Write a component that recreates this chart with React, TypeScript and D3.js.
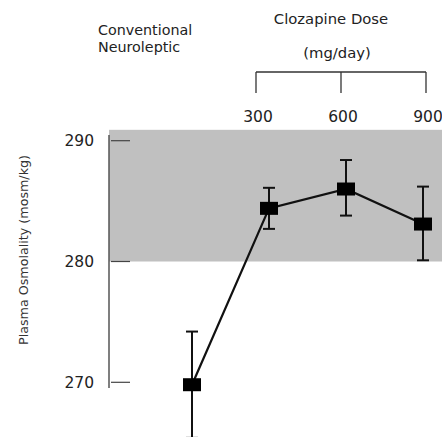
import React, { useEffect, useRef } from "react";
import * as d3 from "d3";

const groups = ["Conventional", "300", "600", "900"];
const means = [269.8, 284.4, 286.0, 283.1];
const errUp = [274.2, 286.1, 288.4, 286.2];
const errDown = [265.4, 282.7, 283.8, 280.1];
const doseLabels = ["300", "600", "900"];
const yTicks = [270, 280, 290];
const normalBand = [280, 290.9];

const font = "'DejaVu Sans', sans-serif";

export default function App() {
  const ref = useRef<SVGSVGElement | null>(null);

  useEffect(() => {
    const svg = d3.select(ref.current);
    svg.selectAll("*").remove();

    const x = d3.scalePoint().domain(groups).range([192, 423]);
    const y = d3.scaleLinear().domain([270, 290]).range([382.3, 140.7]);
    const xDose = d3.scalePoint().domain(doseLabels).range([256, 426]);

    // normal range band
    svg.append("rect")
      .attr("x", 109)
      .attr("y", y(normalBand[1]))
      .attr("width", 442 - 109)
      .attr("height", y(normalBand[0]) - y(normalBand[1]))
      .attr("fill", "#c0c0c0");

    // y axis
    svg.append("line")
      .attr("x1", 109).attr("x2", 109)
      .attr("y1", 135).attr("y2", 388)
      .attr("stroke", "#555").attr("stroke-width", 1.5);

    const ticks = svg.append("g");
    ticks.selectAll("line")
      .data(yTicks)
      .join("line")
      .attr("x1", 111).attr("x2", 130)
      .attr("y1", d => y(d)).attr("y2", d => y(d))
      .attr("stroke", "#444").attr("stroke-width", 1.2);
    ticks.selectAll("text")
      .data(yTicks)
      .join("text")
      .attr("x", 94)
      .attr("y", d => y(d) + 5.5)
      .attr("text-anchor", "end")
      .attr("font-family", font)
      .attr("font-size", 15.5)
      .attr("fill", "#222")
      .text(d => d);

    svg.append("text")
      .attr("transform", `translate(28,250) rotate(-90)`)
      .attr("text-anchor", "middle")
      .attr("font-family", font)
      .attr("font-size", 12.7)
      .attr("fill", "#333")
      .text("Plasma Osmolality (mosm/kg)");

    // header
    const head = svg.append("g").attr("font-family", font).attr("fill", "#222");
    head.append("text").attr("x", 98).attr("y", 35).attr("font-size", 14.3).text("Conventional");
    head.append("text").attr("x", 98).attr("y", 51.5).attr("font-size", 14.3).text("Neuroleptic");
    head.append("text").attr("x", 331).attr("y", 24).attr("text-anchor", "middle").attr("font-size", 14.8).text("Clozapine Dose");
    head.append("text").attr("x", 337).attr("y", 58).attr("text-anchor", "middle").attr("font-size", 14.8).text("(mg/day)");

    // bracket
    const br = svg.append("g").attr("stroke", "#333").attr("stroke-width", 1.3).attr("fill", "none");
    br.append("line")
      .attr("x1", xDose("300")!).attr("x2", xDose("900")!)
      .attr("y1", 72).attr("y2", 72);
    br.selectAll("line.leg")
      .data(doseLabels)
      .join("line")
      .attr("class", "leg")
      .attr("x1", d => xDose(d)!).attr("x2", d => xDose(d)!)
      .attr("y1", 72).attr("y2", 93);

    svg.append("g").selectAll("text")
      .data(doseLabels)
      .join("text")
      .attr("x", d => xDose(d)! + 2)
      .attr("y", 122)
      .attr("text-anchor", "middle")
      .attr("font-family", font)
      .attr("font-size", 15.5)
      .attr("fill", "#222")
      .text(d => d);

    // error bars
    const eb = svg.append("g").attr("stroke", "#111").attr("stroke-width", 2);
    groups.forEach((g, i) => {
      const cx = x(g)!;
      eb.append("line").attr("x1", cx).attr("x2", cx).attr("y1", y(errUp[i])).attr("y2", y(errDown[i]));
      eb.append("line").attr("x1", cx - 6).attr("x2", cx + 6).attr("y1", y(errUp[i])).attr("y2", y(errUp[i]));
      eb.append("line").attr("x1", cx - 6).attr("x2", cx + 6).attr("y1", y(errDown[i])).attr("y2", y(errDown[i]));
    });

    // connecting line
    const line = d3.line<number>()
      .x((_, i) => x(groups[i])!)
      .y(d => y(d));
    svg.append("path")
      .attr("d", line(means))
      .attr("fill", "none")
      .attr("stroke", "#111")
      .attr("stroke-width", 2.2);

    // markers
    svg.append("g").selectAll("rect")
      .data(means)
      .join("rect")
      .attr("x", (_, i) => x(groups[i])! - 9)
      .attr("y", d => y(d) - 6.5)
      .attr("width", 18)
      .attr("height", 13)
      .attr("fill", "#000");
  }, []);

  return (
    <svg ref={ref} width={442} height={437} style={{ position: "absolute", left: 0, top: 0 }} />
  );
}
